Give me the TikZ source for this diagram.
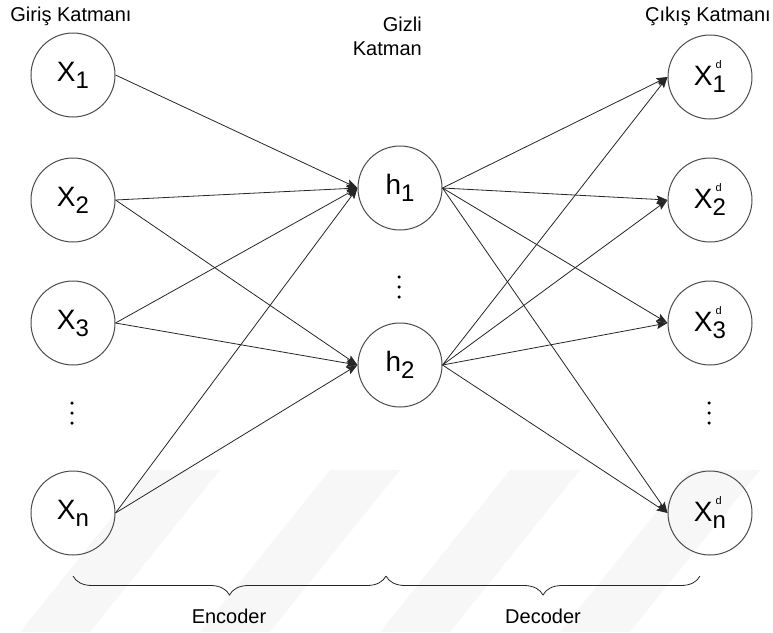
\documentclass[tikz,border=0pt]{standalone}
\usepackage{fontspec}
\setmainfont{Liberation Sans}
\usetikzlibrary{arrows.meta,decorations.pathreplacing}

% unit labels: subscript index, optional small "d" mark
\newcommand{\unitsub}[2]{#1\raisebox{-7pt}{\fontsize{24}{24}\selectfont #2}}
\newcommand{\unitrec}[1]{X\makebox[0pt][l]{\hspace{3pt}\raisebox{17pt}{\fontsize{11}{11}\selectfont d}}\raisebox{-7pt}{\fontsize{24}{24}\selectfont #1}}

\begin{document}
\begin{tikzpicture}[x=1pt,y=-1pt,
  neuron/.style={circle,draw=black!70,line width=1pt,minimum size=84pt,inner sep=0pt,
                 font=\fontsize{28}{28}\selectfont},
  link/.style={draw=black!85,line width=0.8pt,-{Stealth[length=11pt,width=8pt,inset=2pt]}},
  caption/.style={font=\fontsize{20}{24}\selectfont,inner sep=0pt},
  dotmark/.style={circle,fill=black,inner sep=0pt,minimum size=3.5pt},
  curly/.style={decorate,decoration={brace,mirror,amplitude=19pt},draw=black!85,line width=0.8pt},
  band/.style={fill=black!3,draw=none}]
\useasboundingbox (0,0) rectangle (773,632);

% faint diagonal bands in the background
\foreach \b in {20,200,380,560}
  \fill[band] (\b,632) -- (\b+70,632) -- (\b+200,470) -- (\b+130,470) -- cycle;

% layer titles
\node[caption,anchor=base] (tin) at (71,21) {Giriş Katmanı};
\node[caption,anchor=north east,align=right] (thid) at (422,17) {Gizli\\Katman};
\node[caption,anchor=base] (tout) at (708,21) {Çıkış Katmanı};

% input layer
\node[neuron] (x1) at (73,75)  {\unitsub{X}{1}};
\node[neuron] (x2) at (73,200) {\unitsub{X}{2}};
\node[neuron] (x3) at (73,323) {\unitsub{X}{3}};
\node[neuron] (xn) at (73,513) {\unitsub{X}{n}};

% hidden layer
\node[neuron] (h1) at (400,188) {\unitsub{h}{1}};
\node[neuron] (h2) at (400,365) {\unitsub{h}{2}};

% output layer
\node[neuron] (y1) at (710,77)  {\unitrec{1}};
\node[neuron] (y2) at (710,200) {\unitrec{2}};
\node[neuron] (y3) at (710,323) {\unitrec{3}};
\node[neuron] (yn) at (710,513) {\unitrec{n}};

% vertical ellipses
\foreach \k/\dy in {1/0,2/10,3/20} {
  \node[dotmark] (dl\k) at (72,403+\dy) {};
  \node[dotmark] (dm\k) at (399,277+\dy) {};
  \node[dotmark] (dr\k) at (709,403+\dy) {};
}

% encoder connections
\foreach \s in {x1,x2,x3,xn} \draw[link] (\s.east) -- (h1.west);
\foreach \s in {x2,x3,xn} \draw[link] (\s.east) -- (h2.west);

% decoder connections
\foreach \t in {y1,y2,y3,yn} {
  \draw[link] (h1.east) -- (\t.west);
  \draw[link] (h2.east) -- (\t.west);
}

% braces
\coordinate (ba) at (73,576);
\coordinate (bb) at (386,576);
\coordinate (bc) at (700,576);
\draw[curly] (ba) -- (bb);
\draw[curly] (bb) -- (bc);
\node[caption] (enc) at (229,616) {Encoder};
\node[caption] (dec) at (543,616) {Decoder};
\end{tikzpicture}
\end{document}
